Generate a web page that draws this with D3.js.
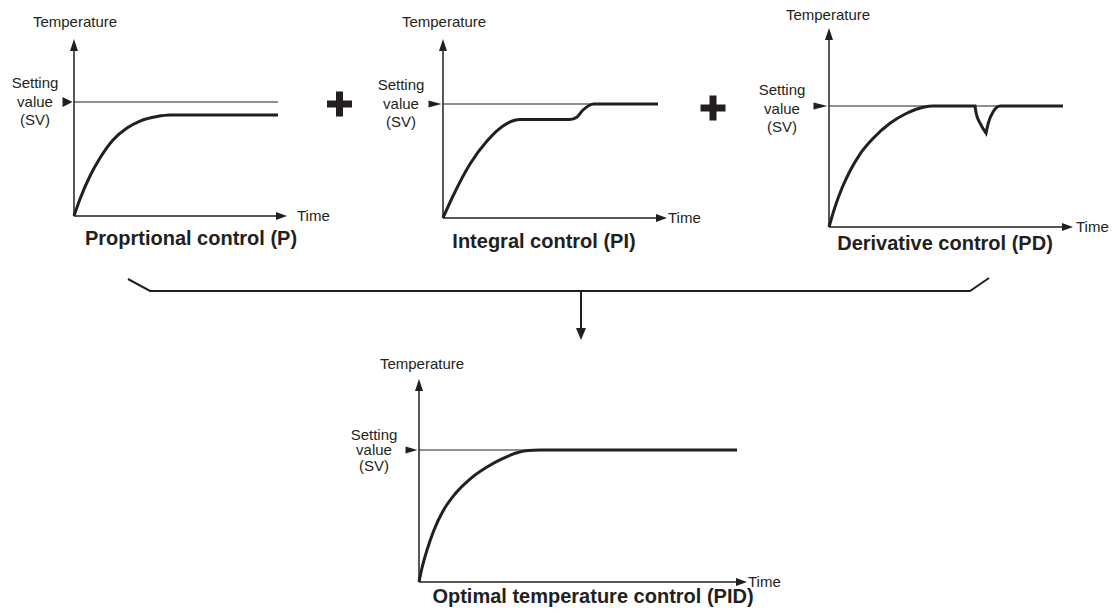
<!DOCTYPE html>
<html>
<head>
<meta charset="utf-8">
<script src="https://cdn.jsdelivr.net/npm/d3@7"></script>
<style>
body { margin: 0; background: #fff; }
text { font-family: "Liberation Sans", Arial, sans-serif; fill: #231f20; }
.title { font-weight: bold; font-size: 20px; }
.lbl { font-size: 15px; }
</style>
</head>
<body>
<div id="chart"></div>
<script>
// panel titles
const titles = ["Proprtional control (P)", "Integral control (PI)", "Derivative control (PD)", "Optimal temperature control (PID)"];
const yLabel = "Temperature";
const xLabel = "Time";
const svLabel = ["Setting", "value", "(SV)"];
const svValue = 1; // setting value (temperature units)

// time runs 0..10, temperature 0..1 (1 = SV)
const pTime = [0, 0.294, 0.784, 1.275, 1.912, 2.598, 3.235, 4.069, 4.706, 10];
const pTemp = [0, 0.149, 0.351, 0.509, 0.667, 0.772, 0.833, 0.873, 0.886, 0.886];

const piTime = [0, 0.465, 1.256, 2.047, 2.791, 3.581, 5.907, 6.233, 6.512, 6.791, 7.023, 10];
const piTemp = [0, 0.193, 0.474, 0.675, 0.807, 0.864, 0.864, 0.886, 0.947, 0.987, 1.0, 1.0];

const pdTime = [0, 0.256, 0.556, 0.897, 1.325, 1.88, 2.607, 3.32, 4.03, 4.457, 6.24, 6.29, 6.45, 6.71, 6.81, 7.02, 7.31, 10];
const pdTemp = [0, 0.165, 0.322, 0.463, 0.603, 0.731, 0.857, 0.94, 0.99, 1.0, 1.0, 0.94, 0.86, 0.775, 0.86, 0.955, 1.0, 1.0];
const pdBreaks = [10, 13]; // corners: dip starts, dip bottom

const pidTime = [0, 0.094, 0.252, 0.472, 0.755, 1.132, 1.604, 2.138, 2.642, 3.05, 3.428, 3.805, 10];
const pidTemp = [0, 0.106, 0.242, 0.394, 0.538, 0.667, 0.78, 0.871, 0.936, 0.977, 0.996, 1.0, 1.0];

const series = [
  { t: pTime, v: pTemp, breaks: [] },
  { t: piTime, v: piTemp, breaks: [] },
  { t: pdTime, v: pdTemp, breaks: pdBreaks },
  { t: pidTime, v: pidTemp, breaks: [] }
];

// layout of each small chart
const layout = [
  { ox: 74, oy: 216, svY: 102, endX: 278, topY: 39, tipX: 287, tempX: 75, tempY: 27, timeX: 297, svX: 35, svDy: [-19, 0, 18], titleX: 191, titleY: 245, mw: 10, mh: 10 },
  { ox: 443, oy: 218, svY: 104, endX: 658, topY: 39, tipX: 667, tempX: 444, tempY: 27, timeX: 668, svX: 401, svDy: [-19, 0, 18], titleX: 544, titleY: 248, mw: 13, mh: 7 },
  { ox: 829, oy: 227, svY: 106, endX: 1063, topY: 28, tipX: 1073, tempX: 828, tempY: 20, timeX: 1076, svX: 782, svDy: [-16, 3, 21], titleX: 945, titleY: 250, mw: 14, mh: 7 },
  { ox: 419, oy: 582, svY: 450, endX: 737, topY: 379, tipX: 747, tempX: 422, tempY: 369, timeX: 748, svX: 374, svDy: [-15, 0, 16], titleX: 593, titleY: 603, mw: 12, mh: 7 }
];

const ink = "#231f20";
const width = 1119, height = 615;

const svg = d3.select("#chart").append("svg")
  .attr("width", width)
  .attr("height", height);

layout.forEach((L, i) => {
  const s = series[i];
  const x = d3.scaleLinear().domain([0, 10]).range([L.ox, L.endX]);
  const y = d3.scaleLinear().domain([0, svValue]).range([L.oy, L.svY]);
  const g = svg.append("g");

  // axes
  g.append("line")
    .attr("x1", x(0)).attr("y1", y(0))
    .attr("x2", x(0)).attr("y2", L.topY + 8)
    .attr("stroke", ink).attr("stroke-width", 1.5);
  g.append("path")
    .attr("d", `M${x(0)},${L.topY} L${x(0) - 4},${L.topY + 12} L${x(0) + 4},${L.topY + 12} Z`)
    .attr("fill", ink);
  g.append("line")
    .attr("x1", x(0)).attr("y1", y(0))
    .attr("x2", L.tipX - 8).attr("y2", y(0))
    .attr("stroke", ink).attr("stroke-width", 1.5);
  g.append("path")
    .attr("d", `M${L.tipX},${y(0)} L${L.tipX - 11},${y(0) - 4} L${L.tipX - 11},${y(0) + 4} Z`)
    .attr("fill", ink);

  // setting value line and marker
  g.append("line")
    .attr("x1", x(0)).attr("y1", y(svValue))
    .attr("x2", x(10)).attr("y2", y(svValue))
    .attr("stroke", ink).attr("stroke-width", 1.2);
  const mx = x(0) - 1.5;
  g.append("path")
    .attr("d", `M${mx},${y(svValue)} L${mx - L.mw},${y(svValue) - L.mh / 2} L${mx - L.mw},${y(svValue) + L.mh / 2} Z`)
    .attr("fill", ink);

  // response curve, split at corners
  const pts = s.t.map((t, k) => [t, s.v[k]]);
  const cuts = [0, ...s.breaks, pts.length - 1];
  const line = d3.line()
    .x(d => x(d[0]))
    .y(d => y(d[1]))
    .curve(d3.curveMonotoneX);
  let d = "";
  for (let k = 0; k < cuts.length - 1; k++) {
    const part = line(pts.slice(cuts[k], cuts[k + 1] + 1));
    d += k === 0 ? part : "L" + part.slice(1);
  }
  g.append("path")
    .attr("d", d)
    .attr("fill", "none")
    .attr("stroke", ink)
    .attr("stroke-width", 3)
    .attr("stroke-linejoin", "miter");

  // labels
  g.append("text").attr("class", "lbl")
    .attr("x", L.tempX).attr("y", L.tempY)
    .attr("text-anchor", "middle").text(yLabel);
  g.append("text").attr("class", "lbl")
    .attr("x", L.timeX).attr("y", y(0)).attr("dy", "0.35em")
    .text(xLabel);
  svLabel.forEach((t, k) => {
    g.append("text").attr("class", "lbl")
      .attr("x", L.svX).attr("y", y(svValue) + L.svDy[k]).attr("dy", "0.35em")
      .attr("text-anchor", "middle").text(t);
  });
  g.append("text").attr("class", "title")
    .attr("x", L.titleX).attr("y", L.titleY)
    .attr("text-anchor", "middle").text(titles[i]);
});

// plus signs between the top charts
[[339.5, 104], [713, 108]].forEach(([cx, cy]) => {
  svg.append("rect").attr("x", cx - 12.5).attr("y", cy - 3.5).attr("width", 25).attr("height", 7).attr("fill", ink);
  svg.append("rect").attr("x", cx - 3.5).attr("y", cy - 12.5).attr("width", 7).attr("height", 25).attr("fill", ink);
});

// bracket and arrow down to the combined chart
svg.append("path")
  .attr("d", "M128,279 L150,291 L970,291 L989,278")
  .attr("fill", "none").attr("stroke", ink).attr("stroke-width", 2);
svg.append("line")
  .attr("x1", 581).attr("y1", 291).attr("x2", 581).attr("y2", 330)
  .attr("stroke", ink).attr("stroke-width", 2);
svg.append("path")
  .attr("d", "M581,340 L576,328 L586,328 Z")
  .attr("fill", ink);
</script>
</body>
</html>
